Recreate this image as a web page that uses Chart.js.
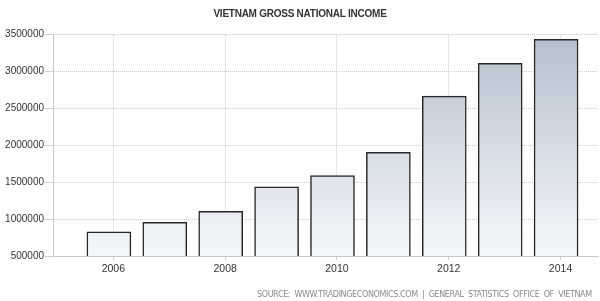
<!DOCTYPE html>
<html>
<head>
<meta charset="utf-8">
<script src="https://cdn.jsdelivr.net/npm/chart.js@4.4.1/dist/chart.umd.min.js"></script>
<style>
html,body{margin:0;padding:0;background:#fff;}
#wrap{width:600px;height:301px;position:relative;}
</style>
</head>
<body>
<div id="wrap"><canvas id="c" width="600" height="301"></canvas></div>
<script>
const titleText = "VIETNAM GROSS NATIONAL INCOME";
const sourceText = "SOURCE:  WWW.TRADINGECONOMICS.COM  |  GENERAL  STATISTICS  OFFICE  OF  VIETNAM";
const years = [2006, 2007, 2008, 2009, 2010, 2011, 2012, 2013, 2014];
const gni = [827000, 955000, 1105000, 1436000, 1590000, 1903000, 2666000, 3108000, 3435000];
const xTickYears = [2006, 2008, 2010, 2012, 2014];
const yTicks = [500000, 1000000, 1500000, 2000000, 2500000, 3000000, 3500000];

const X_MIN = 2004.92, X_MAX = 2014.67, BAR_SHIFT = 0.08;

const textPlugin = {
  id: 'texts',
  afterDraw(chart) {
    const ctx = chart.ctx;
    ctx.save();
    ctx.fillStyle = '#333333';
    ctx.font = 'bold 10px "Liberation Sans", Arial, sans-serif';
    ctx.letterSpacing = '-0.25px';
    ctx.textAlign = 'center';
    ctx.textBaseline = 'middle';
    ctx.fillText(titleText, 300, 14);
    ctx.font = '8px "DejaVu Sans", sans-serif';
    ctx.fillStyle = '#8a8a8a';
    ctx.textAlign = 'left';
    const target = 335;
    ctx.letterSpacing = '0px';
    const w = ctx.measureText(sourceText).width;
    const sp = (target - w) / sourceText.length;
    ctx.letterSpacing = sp.toFixed(2) + 'px';
    ctx.fillText(sourceText, 257, 294.5);
    ctx.restore();
  }
};

const ctx = document.getElementById('c').getContext('2d');
new Chart(ctx, {
  type: 'bar',
  data: {
    datasets: [{
      data: years.map((y, i) => ({x: y, y: gni[i]})),
      xAxisID: 'xb',
      barThickness: 44,
      borderColor: '#262626',
      borderWidth: {top: 1.5, left: 1.5, right: 1.5, bottom: 0},
      borderSkipped: 'bottom',
      backgroundColor: (c) => {
        const a = c.chart.chartArea;
        if (!a) return '#c8d0da';
        const g = c.chart.ctx.createLinearGradient(0, a.top, 0, a.bottom);
        g.addColorStop(0, '#b5c0cd');
        g.addColorStop(1, '#f6f7f9');
        return g;
      }
    }]
  },
  options: {
    responsive: false,
    animation: false,
    layout: {padding: {top: 34.5, bottom: 21, left: 0, right: 2}},
    plugins: {legend: {display: false}, tooltip: {enabled: false}, title: {display: false}},
    scales: {
      x: {
        type: 'linear',
        position: 'bottom',
        offset: false,
        min: X_MIN, max: X_MAX,
        afterBuildTicks: (s) => { s.ticks = xTickYears.map(v => ({value: v})); },
        afterFit: (s) => { s.height = 24; },
        grid: {offset: false, color: '#cccccc', tickLength: 4, drawTicks: true, tickColor: '#c8c8c8'},
        border: {display: true, color: '#c8c8c8', width: 1, dash: [1, 1]},
        ticks: {color: '#333', font: {family: '"Liberation Sans", Arial, sans-serif', size: 10.5}, padding: 3, maxRotation: 0, callback: (v) => String(v)}
      },
      xb: {
        type: 'linear',
        display: false,
        offset: false,
        grid: {offset: false},
        min: X_MIN + BAR_SHIFT, max: X_MAX + BAR_SHIFT
      },
      y: {
        min: 500000, max: 3500000,
        afterBuildTicks: (s) => { s.ticks = yTicks.map(v => ({value: v})); },
        afterFit: (s) => { s.width = 53; },
        grid: {color: '#cccccc', tickLength: 8, tickColor: '#d0d0d0'},
        border: {display: true, color: '#c8c8c8', width: 1, dash: [1, 1]},
        ticks: {color: '#333', font: {family: '"Liberation Sans", Arial, sans-serif', size: 10}, padding: 1, callback: (v) => String(v)}
      }
    }
  },
  plugins: [textPlugin]
});
</script>
</body>
</html>
